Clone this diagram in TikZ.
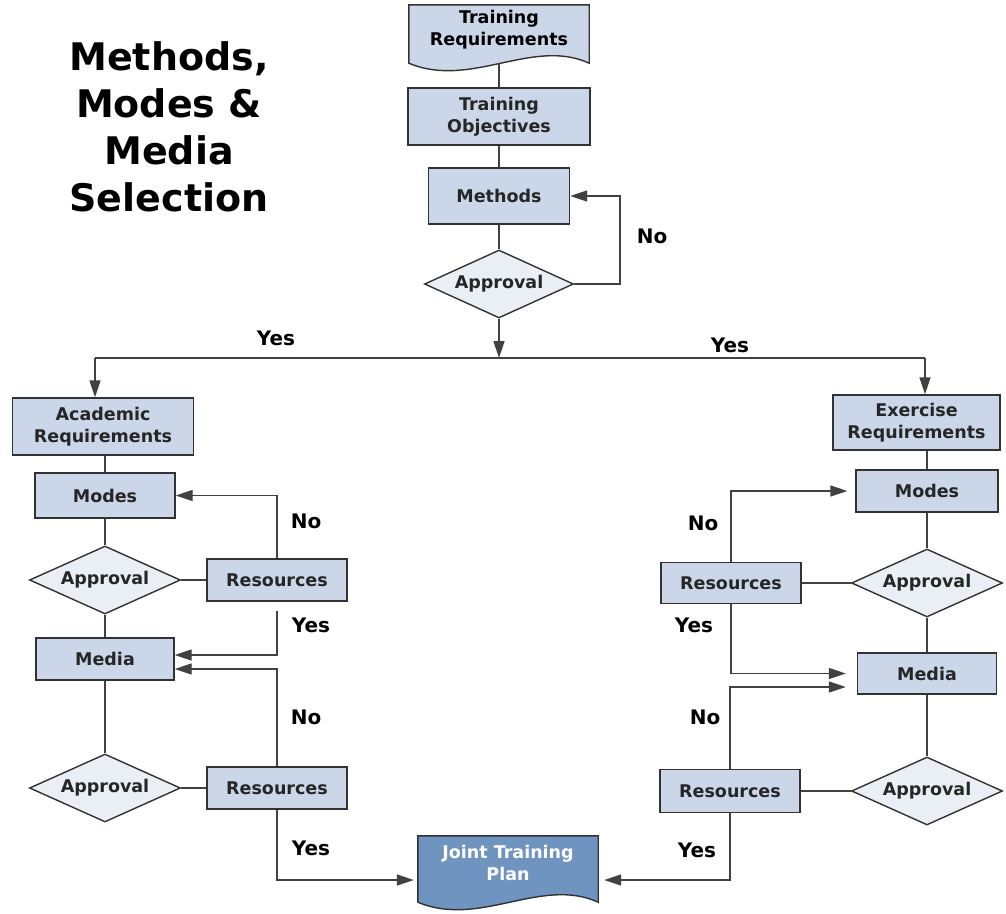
\documentclass[tikz,border=0pt]{standalone}
\usepackage{fontspec}
\setmainfont{DejaVu Sans}
\usetikzlibrary{arrows.meta,shapes.geometric,backgrounds,positioning}

\definecolor{boxblue}{RGB}{203,214,232}
\definecolor{dmdblue}{RGB}{234,238,245}
\definecolor{planblue}{RGB}{111,148,192}
\definecolor{edge}{RGB}{50,50,50}
\definecolor{wirecol}{RGB}{65,65,65}
\newcommand{\docdrop}{\rule[-13pt]{0pt}{13pt}}

\begin{document}
\begin{tikzpicture}
 [
  x=1pt, y=-1pt,
  font=\fontsize{17.5}{22}\selectfont\bfseries,
  box/.style={rectangle, draw=edge, fill=boxblue, line width=1.4pt, align=center, text=black!85, inner sep=0pt},
  decide/.style={diamond, aspect=2.2, draw=edge, fill=dmdblue, line width=1.4pt, inner sep=0pt, minimum width=151pt, minimum height=68pt, text=black!85},
  doc/.style={rectangle, align=center, inner sep=0pt},
  docline/.style={draw=edge, line width=1.4pt},
  wire/.style={draw=wirecol, line width=1.4pt},
  arr/.style={wire, -{Triangle[length=17pt,width=11pt]}},
  answer/.style={font=\fontsize{20}{24}\selectfont\bfseries},
 ]
  \useasboundingbox (0,0) rectangle (1006,913);

  \node[font=\fontsize{38}{47}\selectfont\bfseries, align=center] (title) at (169,127) {Methods,\\Modes \&\\Media\\Selection};

  \node[doc, minimum width=180pt, minimum height=58pt] (treq) at (499,34) {Training\\Requirements\docdrop};
  \node[box, minimum width=182pt, minimum height=57pt] (tobj) at (499,116.5) {Training\\Objectives};
  \node[box, minimum width=141pt, minimum height=56pt] (meth) at (499,196) {Methods};
  \node[decide, minimum width=149pt] (appr) at (499,284) {Approval};

  \node[box, minimum width=181pt, minimum height=57pt] (acad) at (103,426.5) {Academic\\Requirements};
  \node[box, minimum width=140pt, minimum height=45pt] (modesa) at (105,495.5) {Modes};
  \node[decide] (appa1) at (105,580) {Approval};
  \node[box, minimum width=140pt, minimum height=42pt] (resa1) at (277,580) {Resources};
  \node[box, minimum width=138pt, minimum height=42pt] (mediaa) at (105,659) {Media};
  \node[decide] (appa2) at (105,788) {Approval};
  \node[box, minimum width=140pt, minimum height=42pt] (resa2) at (277,788) {Resources};

  \node[box, minimum width=167pt, minimum height=55pt] (exreq) at (916.5,422.5) {Exercise\\Requirements};
  \node[box, minimum width=142pt, minimum height=42pt] (modese) at (927,491) {Modes};
  \node[decide] (appe1) at (927,583) {Approval};
  \node[box, minimum width=140pt, minimum height=41pt] (rese1) at (731,583) {Resources};
  \node[box, minimum width=139pt, minimum height=41pt] (mediae) at (927,673.5) {Media};
  \node[decide] (appe2) at (927,791) {Approval};
  \node[box, minimum width=140pt, minimum height=43pt] (rese2) at (730,791) {Resources};

  \node[doc, minimum width=180pt, minimum height=66pt, text=white] (plan) at (508,869) {Joint Training\\Plan\docdrop};

  \begin{scope}[on background layer]
    \draw[docline, fill=boxblue] (treq.south west) -- (treq.north west) -- (treq.north east) -- (treq.south east)
      .. controls +(-57,-26) and +(62,26) .. (treq.south west) -- cycle;
    \draw[docline, fill=planblue] (plan.south west) -- (plan.north west) -- (plan.north east) -- (plan.south east)
      .. controls +(-57,-26) and +(62,26) .. (plan.south west) -- cycle;
  \end{scope}

  \draw[wire] (treq.south) -- (tobj.north);
  \draw[wire] (tobj) -- (meth);
  \draw[wire] (meth) -- (appr);
  \coordinate (back) at (620,240);
  \draw[arr] (appr.east) -| (back) |- (meth.east);
  \coordinate (split) at (499,358);
  \coordinate (splitl) at (95,358);
  \coordinate (splitr) at (925,358);
  \draw[arr] (appr.south) -- (split);
  \draw[wire] (splitl) -- (splitr);
  \draw[arr] (splitl) -- (splitl |- acad.north);
  \draw[arr] (splitr) -- (splitr |- exreq.north);

  \draw[wire] (acad.south -| modesa) -- (modesa.north);
  \draw[wire] (modesa) -- (appa1);
  \draw[wire] (appa1) -- (mediaa);
  \draw[wire] (mediaa) -- (appa2);
  \draw[wire] (appa1) -- (resa1);
  \draw[wire] (appa2) -- (resa2);
  \draw[arr] (resa1.north) |- (modesa.east);
  \draw[arr] ([yshift=-9pt]resa1.south) |- ([yshift=4pt]mediaa.east);
  \draw[arr] (resa2.north) |- ([yshift=-10pt]mediaa.east);
  \draw[arr, shorten >=4pt] (resa2.south) |- ([yshift=-11pt]plan.west);

  \draw[wire] (exreq.south -| modese) -- (modese.north);
  \draw[wire] (modese) -- (appe1);
  \draw[wire] (appe1) -- (mediae);
  \draw[wire] (mediae) -- (appe2);
  \draw[wire] (rese1) -- (appe1);
  \draw[wire] (rese2) -- (appe2);
  \draw[arr, shorten >=8pt] (rese1.north) |- (modese.west);
  \draw[arr, shorten >=11pt] (rese1.south) |- (mediae.west);
  \draw[arr, shorten >=11pt] (rese2.north) |- ([yshift=-13.5pt]mediae.west);
  \draw[arr, shorten >=6pt] (rese2.south) |- ([yshift=-11pt]plan.east);

  \node[answer] (noloop) at (652,236) {No};
  \node[answer] (yesl) at (276,338) {Yes};
  \node[answer] (yesr) at (730,345) {Yes};
  \node[answer] (noa1) at (306,521) {No};
  \node[answer] (yesa1) at (311,625) {Yes};
  \node[answer] (noa2) at (306,717) {No};
  \node[answer] (yesa2) at (311,848) {Yes};
  \node[answer] (noe1) at (703,523) {No};
  \node[answer] (yese1) at (694,625) {Yes};
  \node[answer] (noe2) at (705,717) {No};
  \node[answer] (yese2) at (697,850) {Yes};
\end{tikzpicture}
\end{document}
